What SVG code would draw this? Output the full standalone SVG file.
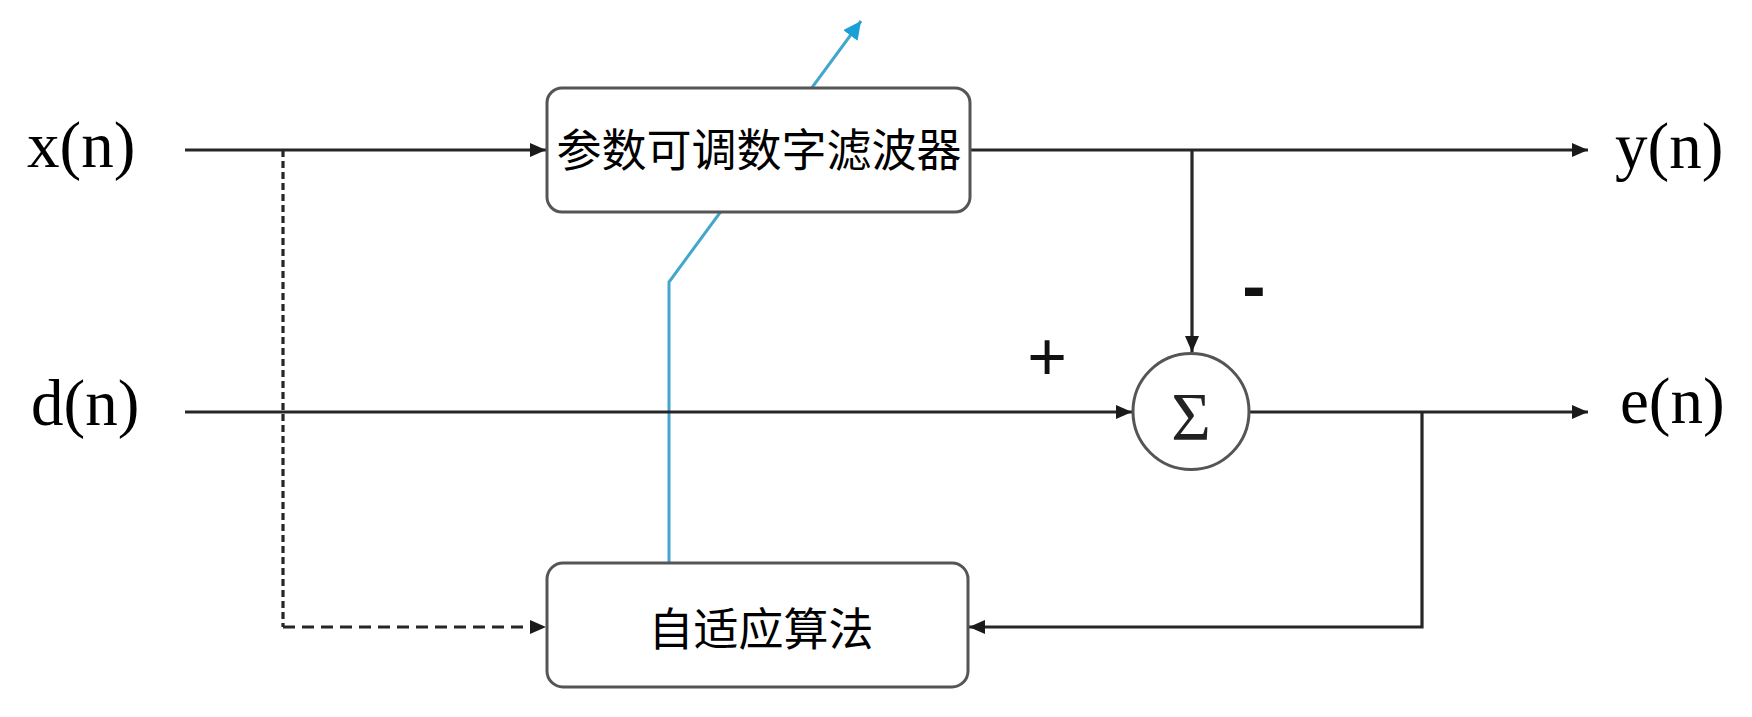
<svg xmlns="http://www.w3.org/2000/svg" width="1752" height="717" viewBox="0 0 1752 717">
<defs>
<style>
.ln{fill:none;stroke:#262626;stroke-width:3.2}
.box{fill:#ffffff;stroke:#555555;stroke-width:3}
.lbl{font-family:"Liberation Serif","Times New Roman",serif;font-size:65px;fill:#000}
.cjk{font-family:"Noto Sans CJK SC","Noto Sans CJK TC",sans-serif;font-size:45px;fill:#000;text-anchor:middle}
.sign{font-family:"Liberation Sans",Arial,sans-serif;fill:#111;text-anchor:middle}
</style>
<marker id="ah" markerUnits="userSpaceOnUse" markerWidth="18" markerHeight="14" refX="16" refY="7" orient="auto">
<path d="M0,0 L16,7 L0,14 Z" fill="#1a1a1a"/>
</marker>
<marker id="ahb" markerUnits="userSpaceOnUse" markerWidth="20" markerHeight="18" refX="18" refY="9" orient="auto">
<path d="M0,0 L18,9 L0,18 Z" fill="#1a9fd6"/>
</marker>
</defs>
<rect width="1752" height="717" fill="#ffffff"/>

<g id="connectors">
<path d="M669,563 L669,282 L861,21" fill="none" stroke="#43a7cc" stroke-width="3" marker-end="url(#ahb)"/>
<line class="ln" x1="185" y1="150" x2="546" y2="150" marker-end="url(#ah)"/>
<line class="ln" x1="970" y1="150" x2="1588" y2="150" marker-end="url(#ah)"/>
<line class="ln" x1="1192" y1="150" x2="1192" y2="352" marker-end="url(#ah)"/>
<line class="ln" x1="185" y1="412" x2="1132" y2="412" marker-end="url(#ah)"/>
<line class="ln" x1="1250" y1="412" x2="1588" y2="412" marker-end="url(#ah)"/>
<polyline class="ln" points="1422,412 1422,627 969,627" marker-end="url(#ah)"/>
<line class="ln" x1="283" y1="150" x2="283" y2="627" stroke-dasharray="7,4"/>
<line class="ln" x1="283" y1="627" x2="546" y2="627" stroke-dasharray="12,7" marker-end="url(#ah)"/>
</g>

<g id="filter">
<rect class="box" x="547" y="88" width="423" height="124" rx="15" ry="15"/>
<text class="cjk" x="759" y="167">参数可调数字滤波器</text>
</g>

<g id="adaptive">
<rect class="box" x="547" y="563" width="421" height="124" rx="16" ry="16"/>
<text class="cjk" x="761" y="646">自适应算法</text>
</g>

<g id="sum">
<circle cx="1191" cy="411.5" r="58" fill="#ffffff" stroke="#555555" stroke-width="3"/>
<text x="1191" y="439" font-family="Liberation Serif, serif" font-size="68" text-anchor="middle" fill="#222">Σ</text>
</g>

<g id="labels">
<text class="lbl" x="27" y="167">x(n)</text>
<text class="lbl" x="31" y="425">d(n)</text>
<text class="lbl" x="1615" y="168">y(n)</text>
<text class="lbl" x="1620" y="423">e(n)</text>
<text class="sign" x="1047" y="380" font-size="68">+</text>
<text class="sign" x="1254" y="310" font-size="70" font-weight="bold">-</text>
</g>
</svg>
